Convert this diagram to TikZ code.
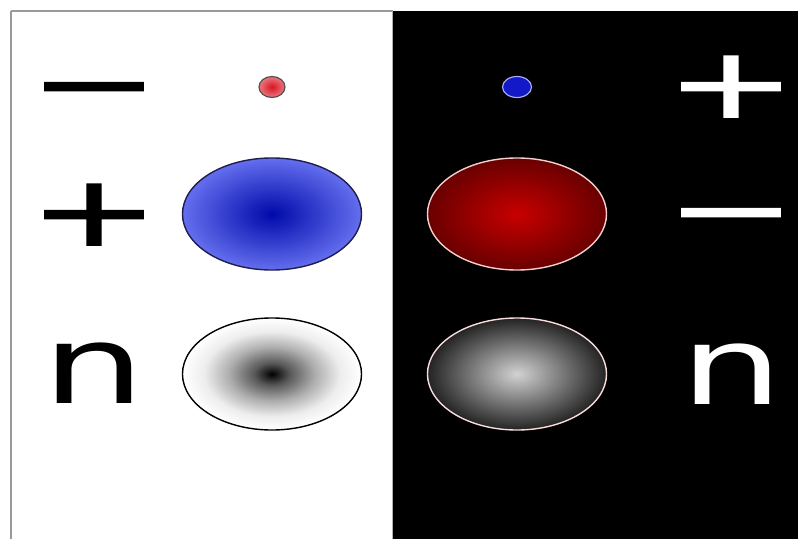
\documentclass[tikz,border=0pt]{standalone}
\usepackage{fontspec}
\setmainfont{DejaVu Sans}
\newfontfamily\signfont[FakeBold=1.6]{DejaVu Sans}
\usetikzlibrary{shapes.geometric}
\definecolor{bluein}{RGB}{0,10,170}
\definecolor{blueout}{RGB}{100,110,238}
\definecolor{bluerim}{RGB}{30,30,80}
\definecolor{redin}{RGB}{200,0,0}
\definecolor{redout}{RGB}{105,0,0}
\definecolor{rimpink}{RGB}{245,205,205}
\definecolor{greyin}{RGB}{210,210,210}
\definecolor{greyout}{RGB}{35,35,35}
\definecolor{dotredin}{RGB}{215,20,35}
\definecolor{dotredout}{RGB}{235,120,125}
\definecolor{dotblue}{RGB}{20,25,200}
\definecolor{dotrim}{RGB}{175,175,255}
\pgfdeclareradialshading{neutral}{\pgfpoint{0bp}{0bp}}{color(0bp)=(black); color(5bp)=(black!65); color(12bp)=(black!32); color(19bp)=(black!7); color(25bp)=(white); color(50bp)=(white)}
\newcommand\wide[1]{\scalebox{1.5}[1]{#1}}
\newcommand\wider[1]{\scalebox{1.6}[1]{#1}}

\begin{document}
\begin{tikzpicture}[x=0.025cm,y=-0.025cm,
 sym/.style={anchor=base,inner sep=0pt,font=\fontsize{77}{77}\selectfont},
 sign/.style={anchor=base,inner sep=0pt,font=\fontsize{69}{69}\signfont},
 blob/.style={ellipse,inner sep=0pt,minimum width=4.475cm,minimum height=2.8cm,line width=1pt},
 dot/.style={ellipse,inner sep=0pt,minimum height=0.525cm,line width=0.8pt}]
\useasboundingbox (0,0) rectangle (798,539);
\fill[white] (0,0) rectangle (798,539);
\fill[black] (393,11) rectangle (798,539);
\draw[black!40,line width=2pt] (11,539) -- (11,11);
\draw[black!40,line width=0.8pt] (11,11) -- (393,11);
\draw[black!30,line width=1pt] (392.5,11) -- (392.5,539);
% left panel
\node[sign] (minusL) at (94,117) {\wider{−}};
\node[sign] (plusL) at (94,245) {\wider{+}};
\node[sym] (nL) at (94,403) {\wide{n}};
\node[dot,minimum width=0.65cm,draw=black!70,inner color=dotredin,outer color=dotredout] (eL) at (272,87) {};
\node[blob,draw=bluerim,inner color=bluein,outer color=blueout] (pbL) at (272,214) {};
\node[blob,draw=black,shading=neutral] (nbL) at (272,374) {};
% right panel
\node[dot,minimum width=0.725cm,draw=dotrim,fill=dotblue] (eR) at (517,87) {};
\node[blob,draw=rimpink,inner color=redin,outer color=redout] (pbR) at (517,214) {};
\node[blob,draw=rimpink!70!white,inner color=greyin,outer color=greyout] (nbR) at (517,374) {};
\node[sign,text=white] (plusR) at (731,117) {\wider{+}};
\node[sign,text=white] (minusR) at (731,243) {\wider{−}};
\node[sym,text=white] (nR) at (732,404) {\wide{n}};
\end{tikzpicture}
\end{document}
